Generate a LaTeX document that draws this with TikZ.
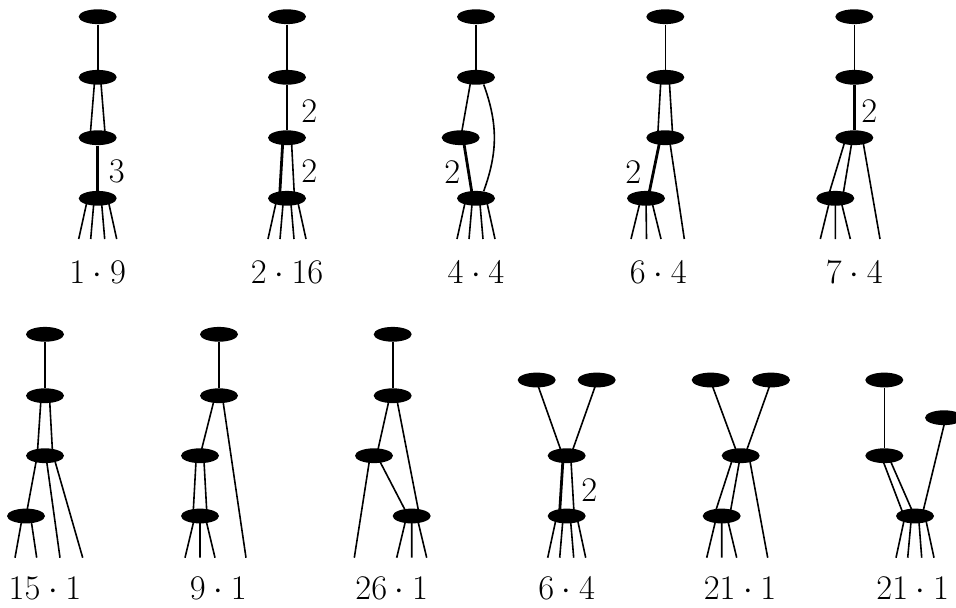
\documentclass[tikz,border=0pt]{standalone}
\usepackage{tikz}
\usetikzlibrary{shapes.geometric, calc}
\pgfdeclarelayer{background}
\pgfsetlayers{background,main}

\begin{document}
\begin{tikzpicture}[
    x=0.5pt, y=-0.5pt,
    vtx/.style={ellipse, fill=black, inner sep=0pt, minimum width=19pt, minimum height=7.4pt},
    link/.style={line width=0.8pt},
    mlink/.style={line width=1.4pt},
    mult/.style={font=\fontsize{17pt}{20pt}\selectfont, inner sep=0pt},
    count/.style={font=\fontsize{17pt}{20pt}\selectfont, inner sep=0pt}
]
\useasboundingbox (0,0) rectangle (956,607);

% top row
\node[vtx] (a1) at (97.7,16.7) {};
\node[vtx] (b1) at (97.7,77.3) {};
\node[vtx] (c1) at (97.7,137.7) {};
\node[vtx] (d1) at (97.7,198.3) {};
\node[mult] (m1) at (116.7,171.7) {$3$};
\node[count] (n1) at (97.7,272) {$1\cdot 9$};

\node[vtx] (a2) at (287,16.7) {};
\node[vtx] (b2) at (287,77.3) {};
\node[vtx] (c2) at (287,137.7) {};
\node[vtx] (d2) at (287,198.3) {};
\node[mult] (m2) at (309.3,111.7) {$2$};
\node[mult] (m2b) at (309.3,171.7) {$2$};
\node[count] (n2) at (287,272) {$2\cdot 16$};

\node[vtx] (a3) at (476,16.7) {};
\node[vtx] (b3) at (476,77.3) {};
\node[vtx] (c3) at (460.7,137.7) {};
\node[vtx] (d3) at (476,198.3) {};
\node[mult] (m3) at (452.3,172) {$2$};
\node[count] (n3) at (476,272) {$4\cdot 4$};

\node[vtx] (a4) at (665.3,16.7) {};
\node[vtx] (b4) at (665.3,77.3) {};
\node[vtx] (c4) at (665.3,137.7) {};
\node[vtx] (d4) at (646,198.3) {};
\node[mult] (m4) at (633.3,172) {$2$};
\node[count] (n4) at (658.3,272) {$6\cdot 4$};

\node[vtx] (a5) at (854.3,16.7) {};
\node[vtx] (b5) at (854.3,77.3) {};
\node[vtx] (c5) at (854.3,137.7) {};
\node[vtx] (d5) at (835.3,198.3) {};
\node[mult] (m5) at (869.3,111.7) {$2$};
\node[count] (n5) at (854.3,272) {$7\cdot 4$};

% bottom row
\node[vtx] (a6) at (45,334.3) {};
\node[vtx] (b6) at (45,395.7) {};
\node[vtx] (c6) at (45,455.7) {};
\node[vtx] (d6) at (26,516) {};
\node[count] (n6) at (45,588.3) {$15\cdot 1$};

\node[vtx] (a7) at (219,334.3) {};
\node[vtx] (b7) at (219,395.7) {};
\node[vtx] (c7) at (200,455.7) {};
\node[vtx] (d7) at (200,516) {};
\node[count] (n7) at (218.3,588.3) {$9\cdot 1$};

\node[vtx] (a8) at (392.7,334.3) {};
\node[vtx] (b8) at (392.7,395.7) {};
\node[vtx] (c8) at (374,455.7) {};
\node[vtx] (d8) at (411.7,516) {};
\node[count] (n8) at (391.7,588.3) {$26\cdot 1$};

\node[vtx] (e9) at (536.7,380) {};
\node[vtx] (f9) at (596.7,380) {};
\node[vtx] (c9) at (566.7,455.7) {};
\node[vtx] (d9) at (566.7,516) {};
\node[mult] (m9) at (589.3,490) {$2$};
\node[count] (n9) at (566.7,588.3) {$6\cdot 4$};

\node[vtx] (e10) at (710.7,380) {};
\node[vtx] (f10) at (771,380) {};
\node[vtx] (c10) at (740.7,455.7) {};
\node[vtx] (d10) at (721.7,516) {};
\node[count] (n10) at (740,588.3) {$21\cdot 1$};

\node[vtx] (e11) at (884.3,380) {};
\node[vtx] (g11) at (944,417.7) {};
\node[vtx] (c11) at (884.3,455.7) {};
\node[vtx] (d11) at (915,516) {};
\node[count] (n11) at (912.7,588.3) {$21\cdot 1$};

\begin{pgfonlayer}{background}
\draw[link] (a1) -- (b1);
\draw[link] ($(b1)+(-2.8,0)$) -- ($(c1)+(-7.7,0)$);
\draw[link] ($(b1)+(2.8,0)$) -- ($(c1)+(7.7,0)$);
\draw[mlink] (c1) -- (d1);
\draw[link] ($(d1)+(-10,0)$) -- ++(-9,40.7) ($(d1)+(-3.5,0)$) -- ++(-3.5,40.7)
    ($(d1)+(3.5,0)$) -- ++(3.5,40.7) ($(d1)+(10,0)$) -- ++(9,40.7);

\draw[link] (a2) -- (b2);
\draw[mlink] (b2) -- (c2);
\draw[mlink] ($(c2)+(-4,0)$) -- ($(d2)+(-7.5,0)$);
\draw[link] ($(c2)+(4.3,0)$) -- ($(d2)+(7.5,0)$);
\draw[link] ($(d2)+(-10,0)$) -- ++(-9,40.7) ($(d2)+(-3.5,0)$) -- ++(-3.5,40.7)
    ($(d2)+(3.5,0)$) -- ++(3.5,40.7) ($(d2)+(10,0)$) -- ++(9,40.7);

\draw[link] (a3) -- (b3);
\draw[link] ($(b3)+(-4.6,0)$) -- (c3.center);
\draw[mlink] ($(c3)+(2.3,0)$) -- ($(d3)+(-3.2,0)$);
\draw[link] (b3.-43) to[out=-70, in=70] (d3.43);
\draw[link] ($(d3)+(-10,0)$) -- ++(-9,40.7) ($(d3)+(-3.5,0)$) -- ++(-3.5,40.7)
    ($(d3)+(3.5,0)$) -- ++(3.5,40.7) ($(d3)+(10,0)$) -- ++(9,40.7);

\draw[link] (a4) -- (b4);
\draw[link] ($(b4)+(-4.3,0)$) -- ($(c4)+(-7.7,0)$);
\draw[link] ($(b4)+(3.8,0)$) -- ($(c4)+(7.5,0)$);
\draw[mlink] ($(c4)+(-4.8,0)$) -- ($(d4)+(2,0)$);
\draw[link] ($(c4)+(3.9,0)$) -- ++(15.1,101.3);
\draw[link] ($(d4)+(-5,0)$) -- ++(-10,40.7) (d4.center) -- ++(0.5,40.7)
    ($(d4)+(5,0)$) -- ++(10,40.7);

\draw[link] (a5) -- (b5);
\draw[mlink] (b5) -- (c5);
\draw[link] ($(c5)+(-8.3,0)$) -- ($(d5)+(-7.7,0)$);
\draw[link] ($(c5)+(-1.7,0)$) -- ($(d5)+(7.1,0)$);
\draw[link] ($(c5)+(8,0)$) -- ++(17.7,101.3);
\draw[link] ($(d5)+(-5,0)$) -- ++(-10,40.7) (d5.center) -- ++(0,40.7)
    ($(d5)+(5,0)$) -- ++(10,40.7);

\draw[link] (a6) -- (b6);
\draw[link] ($(b6)+(-3.8,0)$) -- ($(c6)+(-7.8,0)$);
\draw[link] ($(b6)+(4.4,0)$) -- ($(c6)+(7.7,0)$);
\draw[link] ($(c6)+(-7.8,0)$) -- (d6.center);
\draw[link] ($(c6)+(0.9,0)$) -- ++(14.1,102);
\draw[link] ($(c6)+(8.4,0)$) -- ++(29.3,102);
\draw[link] ($(d6)+(-3.5,0)$) -- ++(-7.5,41.7) ($(d6)+(4.5,0)$) -- ++(6.2,41.7);

\draw[link] (a7) -- (b7);
\draw[link] ($(b7)+(-3.8,0)$) -- (c7.center);
\draw[link] ($(b7)+(3.2,0)$) -- ++(23.8,162);
\draw[link] ($(c7)+(-3.7,0)$) -- ($(d7)+(-7,0)$);
\draw[link] ($(c7)+(3.7,0)$) -- ($(d7)+(7,0)$);
\draw[link] ($(d7)+(-5,0)$) -- ++(-10,41.7) (d7.center) -- ++(0,41.7)
    ($(d7)+(5,0)$) -- ++(10,41.7);

\draw[link] (a8) -- (b8);
\draw[link] ($(b8)+(-2.7,0)$) -- ($(c8)+(2.6,0)$);
\draw[link] ($(b8)+(3.4,0)$) -- ($(d8)+(7.8,0)$);
\draw[link] ($(c8)+(-3.8,0)$) -- ++(-15.9,102);
\draw[link] ($(c8)+(2.9,0)$) -- ($(d8)+(-3.5,0)$);
\draw[link] ($(d8)+(-5,0)$) -- ++(-10,41.7) (d8.center) -- ++(0,41.7)
    ($(d8)+(5,0)$) -- ++(10,41.7);

\draw[link] ($(e9)+(-0.7,0)$) -- ($(c9)+(-3.9,0)$);
\draw[link] ($(f9)+(0.7,0)$) -- ($(c9)+(3.9,0)$);
\draw[mlink] ($(c9)+(-3.5,0)$) -- ($(d9)+(-7.3,0)$);
\draw[link] ($(c9)+(4,0)$) -- ($(d9)+(7.5,0)$);
\draw[link] ($(d9)+(-10,0)$) -- ++(-9,41.7) ($(d9)+(-3.5,0)$) -- ++(-3.5,41.7)
    ($(d9)+(3.5,0)$) -- ++(3.5,41.7) ($(d9)+(10,0)$) -- ++(9,41.7);

\draw[link] ($(e10)+(-0.5,0)$) -- ($(c10)+(-2.6,0)$);
\draw[link] ($(f10)+(0.7,0)$) -- ($(c10)+(4,0)$);
\draw[link] ($(c10)+(-7.1,0)$) -- ($(d10)+(-7.7,0)$);
\draw[link] ($(c10)+(-0.3,0)$) -- ($(d10)+(7.9,0)$);
\draw[link] ($(c10)+(8.2,0)$) -- ++(18.8,102);
\draw[link] ($(d10)+(-5,0)$) -- ++(-10,41.7) (d10.center) -- ++(0,41.7)
    ($(d10)+(5,0)$) -- ++(10,41.7);

\draw[link] (e11) -- (c11);
\draw[link] ($(c11)+(-3.3,0)$) -- ($(d11)+(-11,0)$);
\draw[link] ($(c11)+(3.8,0)$) -- ($(d11)+(-0.5,0)$);
\draw[link] ($(g11)+(1.8,0)$) -- ($(d11)+(6.9,0)$);
\draw[link] ($(d11)+(-10,0)$) -- ++(-9,41.7) ($(d11)+(-3.5,0)$) -- ++(-3.8,41.7)
    ($(d11)+(3.5,0)$) -- ++(3.2,41.7) ($(d11)+(10,0)$) -- ++(9,41.7);
\end{pgfonlayer}

\end{tikzpicture}
\end{document}
